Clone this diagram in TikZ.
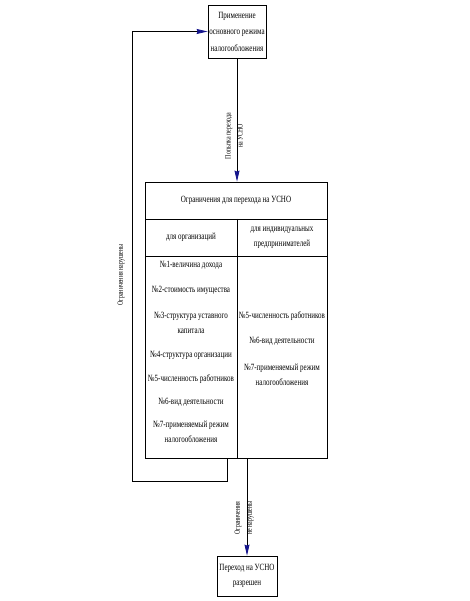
\documentclass[tikz,border=0pt]{standalone}
\usepackage{fontspec}
\setmainfont{Liberation Serif}[FakeStretch=0.74]
\usetikzlibrary{arrows.meta}
\definecolor{tipblue}{RGB}{20,20,140}
\begin{document}
\begin{tikzpicture}[x=1pt,y=-1pt,
  every node/.style={font=\fontsize{9.5}{15}\selectfont, inner sep=0pt},
  box/.style={draw, line width=0.8pt, align=center},
  conn/.style={line width=0.8pt, -{Stealth[length=11pt,width=5pt,inset=1pt,color=tipblue]}},
  lbl/.style={rotate=90, align=center, font=\fontsize{8}{12}\selectfont},
  cell/.style={align=center}]
\useasboundingbox (0,0) rectangle (470,601);
% boxes
\node[box, minimum width=58pt, minimum height=53pt, font=\fontsize{9.5}{16.5}\selectfont] (top) at (237,31.5) {Применение\\основного режима\\налогообложения};
\node[box, minimum width=182pt, minimum height=276pt] (tbl) at (236,320) {};
\node[box, minimum width=60pt, minimum height=40pt] (bot) at (247,576) {Переход на УСНО\\разрешен};
% table inner lines
\draw[line width=0.8pt] (145,219) -- (327,219);
\draw[line width=0.8pt] (145,256) -- (327,256);
\draw[line width=0.8pt] (237,219) -- (237,458);
% table texts
\node[cell] (hdr) at (236,200) {Ограничения для перехода на УСНО};
\node[cell] (corg) at (191,237.5) {для организаций};
\node[cell] (cip) at (282,237.5) {для индивидуальных\\предпринимателей};
\node[cell] (o1) at (191,265) {№1-величина дохода};
\node[cell] (o2) at (191,290) {№2-стоимость имущества};
\node[cell] (o3) at (191,322.5) {№3-структура уставного\\капитала};
\node[cell] (o4) at (191,355) {№4-структура организации};
\node[cell] (o5) at (191,379) {№5-численность работников};
\node[cell] (o6) at (191,402) {№6-вид деятельности};
\node[cell] (o7) at (191,431.5) {№7-применяемый режим\\налогообложения};
\node[cell] (i5) at (282,316) {№5-численность работников};
\node[cell] (i6) at (282,341) {№6-вид деятельности};
\node[cell] (i7) at (282,374.5) {№7-применяемый режим\\налогообложения};
% connectors
\draw[conn] (top.south) -- (top.south |- tbl.north);
\draw[conn] (bot.north |- tbl.south) -- (bot.north);
\coordinate (lp) at (227,458);
\coordinate (lc) at (132,481);
\draw[conn] (lp) |- (lc) |- (top.west);
% labels
\node[lbl] (l1) at (234,136) {Попытка перехода\\на УСНО};
\node[lbl] (l2) at (244,518) {Ограничения\\не нарушены};
\node[lbl] (l3) at (121,275) {Ограничения нарушены};
\end{tikzpicture}
\end{document}
